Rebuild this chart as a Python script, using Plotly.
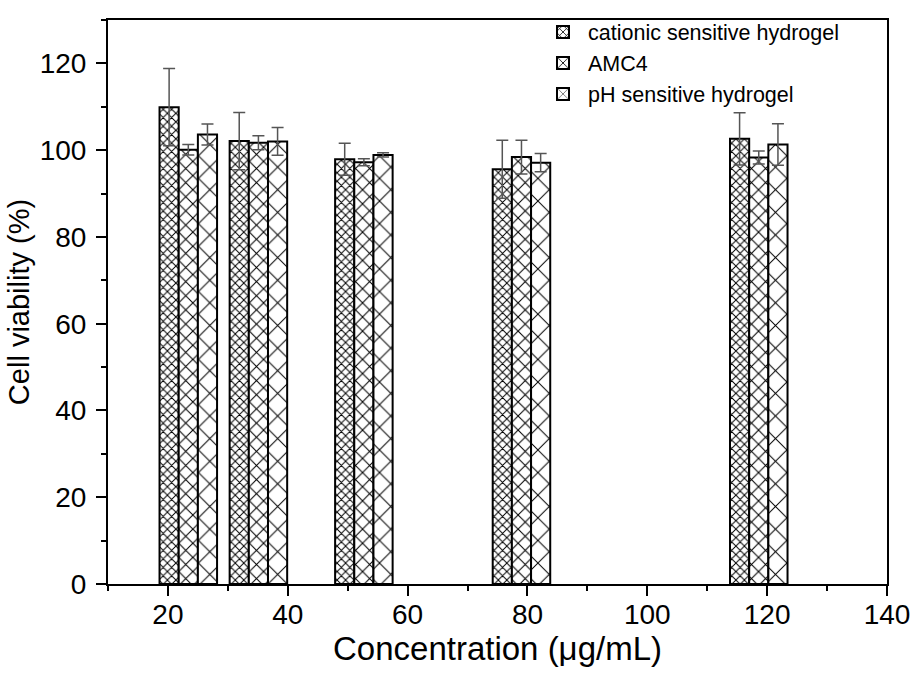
import plotly.graph_objects as go

concentration = [23.4, 35.1, 52.7, 79.0, 118.6]
series_names = ["cationic sensitive hydrogel", "AMC4", "pH sensitive hydrogel"]
cationic = [109.9, 102.1, 97.9, 95.6, 102.6]
cationic_err = [8.9, 6.6, 3.7, 6.7, 6.0]
amc4 = [100.1, 101.7, 97.2, 98.4, 98.3]
amc4_err = [1.2, 1.6, 0.8, 3.9, 1.5]
ph = [103.6, 102.0, 98.9, 97.1, 101.3]
ph_err = [2.4, 3.2, 0.5, 2.1, 4.8]

values = [cationic, amc4, ph]
errors = [cationic_err, amc4_err, ph_err]
pattern_sizes = [6, 10, 16]
pattern_solid = [0.3, 0.2, 0.12]
offsets = [-4.8, -1.6, 1.6]

FONT = "Liberation Sans, Arial, sans-serif"

fig = go.Figure()
for name, v, e, ps, sol, off in zip(series_names, values, errors, pattern_sizes, pattern_solid, offsets):
    fig.add_trace(go.Bar(
        x=concentration, y=v, name=name,
        width=3.2, offset=off,
        marker=dict(color="white", line=dict(color="black", width=2),
                    pattern=dict(shape="x", size=ps, solidity=sol,
                                 fgcolor="black", bgcolor="white", fillmode="replace")),
        error_y=dict(type="data", array=e, symmetric=True, color="#555555",
                     thickness=1.5, width=6),
    ))

axis_common = dict(
    showline=True, linecolor="black", linewidth=2, mirror=True,
    ticks="outside", ticklen=10, tickwidth=2, tickcolor="black",
    showgrid=False, zeroline=False, automargin=False,
    tickfont=dict(family=FONT, size=28, color="black"),
)

fig.update_xaxes(
    range=[10, 140], tick0=0, dtick=20, ticklabelstandoff=-6,
    minor=dict(dtick=10, ticks="outside", ticklen=5, tickwidth=2, tickcolor="black"),
    title=dict(text="Concentration (μg/mL)", font=dict(family=FONT, size=33, color="black"), standoff=2),
    **axis_common,
)
fig.update_yaxes(
    range=[0, 130], tick0=0, dtick=20, ticklabelstandoff=4,
    minor=dict(dtick=10, ticks="outside", ticklen=5, tickwidth=2, tickcolor="black"),
    title=dict(text="Cell viability (%)", font=dict(family=FONT, size=29, color="black"), standoff=2),
    **axis_common,
)

fig.update_layout(
    width=914, height=675,
    margin=dict(l=108, r=27, t=14, b=91),
    plot_bgcolor="white", paper_bgcolor="white",
    showlegend=True,
    legend=dict(x=0.552, y=1.015, xanchor="left", yanchor="top",
                bgcolor="rgba(0,0,0,0)", font=dict(family=FONT, size=21.5, color="black"),
                tracegroupgap=0, itemwidth=40),
    font=dict(family=FONT, color="black"),
)

fig.write_html(
    "out.html",
    config={"displayModeBar": False},
    post_script="document.body.style.margin='0';document.body.style.overflow='hidden';",
)
